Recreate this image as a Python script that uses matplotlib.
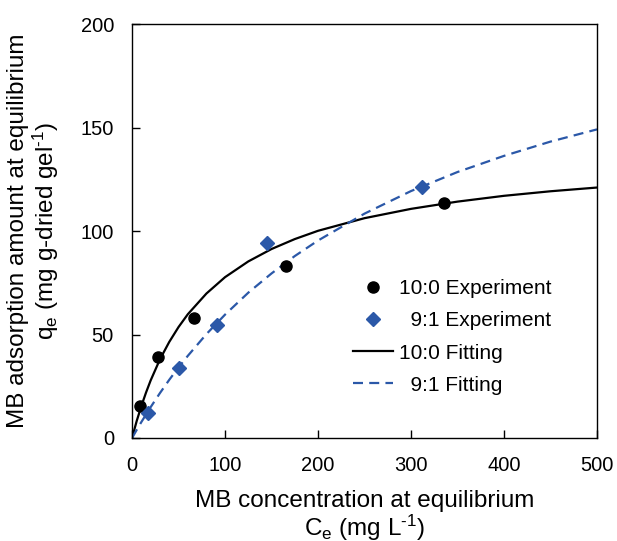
import matplotlib
matplotlib.use('Agg')
import matplotlib.pyplot as plt

plt.rcParams['font.family'] = ['Liberation Sans', 'DejaVu Sans']
plt.rcParams['mathtext.fontset'] = 'custom'
plt.rcParams['mathtext.rm'] = 'Liberation Sans'
plt.rcParams['mathtext.it'] = 'Liberation Sans:italic'

ce_100 = [8.6, 28.3, 66.6, 166, 335.5]
qe_100 = [15.5, 39, 58.1, 83.3, 113.7]
ce_91 = [17.5, 50.8, 91, 144.7, 311.8]
qe_91 = [11.9, 33.7, 54.6, 94, 121.1]

# Fitted curves, values
fit_ce = [0, 5, 10, 15, 20, 30, 40, 50, 60, 80, 100, 125, 150, 175, 200,
          250, 300, 350, 400, 450, 500]
fit_100 = [0, 8.2, 15.4, 21.9, 27.8, 38.0, 46.4, 53.6, 59.8, 69.8, 77.7,
           85.3, 91.3, 96.1, 100.1, 106.2, 110.7, 114.2, 117.0, 119.2, 121.0]
fit_91 = [0, 3.9, 7.7, 11.3, 14.9, 21.7, 28.1, 34.1, 39.7, 50.2, 59.6,
          70.2, 79.5, 87.9, 95.4, 108.4, 119.3, 128.5, 136.3, 143.2, 149.1]

labels = ['10:0 Experiment', '  9:1 Experiment', '10:0 Fitting', '  9:1 Fitting']
blue = '#2B58A8'

fig = plt.figure(figsize=(6.17, 5.41), dpi=100)
ax = fig.add_axes([0.214, 0.1904, 0.7536, 0.7652])

ax.plot(ce_100, qe_100, 'o', color='black', ms=8, label=labels[0], zorder=3)
ax.plot(ce_91, qe_91, 'D', color=blue, ms=7, label=labels[1], zorder=3)
ax.plot(fit_ce, fit_100, '-', color='black', lw=1.6, label=labels[2])
ax.plot(fit_ce, fit_91, '--', color=blue, lw=1.6, dashes=(4.5, 2.8), label=labels[3])

ax.set_xlim(0, 500)
ax.set_ylim(0, 200)
ax.set_xticks(range(0, 501, 100))
ax.set_yticks(range(0, 201, 50))
ax.tick_params(direction='in', length=6, width=1, labelsize=14.5, pad=13)
for s in ax.spines.values():
    s.set_linewidth(1)

ax.set_xlabel('MB concentration at equilibrium\nC$_\\mathrm{e}$ (mg L$^{\\text{-}1}$)',
              fontsize=17.5, labelpad=11, linespacing=1.0)
ax.set_ylabel('MB adsorption amount at equilibrium\nq$_\\mathrm{e}$ (mg g-dried gel$^{\\text{-}1}$)',
              fontsize=17.5, labelpad=14, linespacing=1.1)

ax.legend(loc='center left', bbox_to_anchor=(0.435, 0.244), frameon=False,
          fontsize=15, handlelength=1.9, handletextpad=0.3, labelspacing=0.63)

fig.savefig('out.png', dpi=100)
